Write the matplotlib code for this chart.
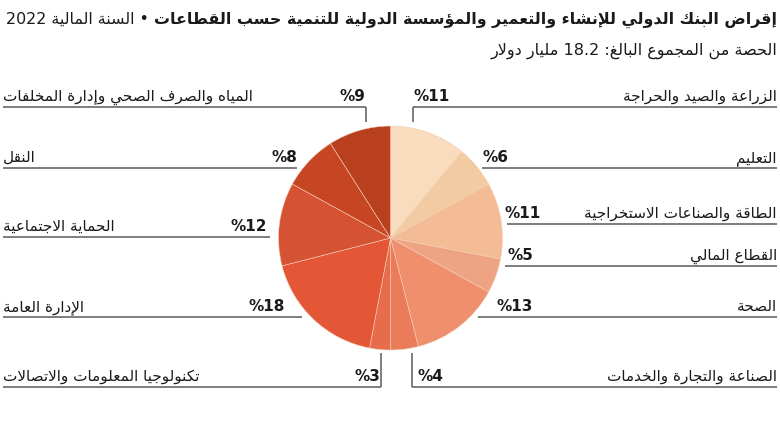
import re
import matplotlib
matplotlib.use("Agg")
import matplotlib.pyplot as plt

W, H = 780, 439

# ---- data ----
title_bold = "إقراض البنك الدولي للإنشاء والتعمير والمؤسسة الدولية للتنمية حسب القطاعات"
title_rest = "• السنة المالية 2022"
subtitle = "الحصة من المجموع البالغ: 18.2 مليار دولار"

sectors = [
    "الزراعة والصيد والحراجة",
    "التعليم",
    "الطاقة والصناعات الاستخراجية",
    "القطاع المالي",
    "الصحة",
    "الصناعة والتجارة والخدمات",
    "تكنولوجيا المعلومات والاتصالات",
    "الإدارة العامة",
    "الحماية الاجتماعية",
    "النقل",
    "المياه والصرف الصحي وإدارة المخلفات",
]
shares = [11, 6, 11, 5, 13, 4, 3, 18, 12, 8, 9]
colors = ["#F9DBBD", "#F3CBA2", "#F4BC95", "#EFA385", "#EF8F6D", "#EA7C5C",
          "#E76C4C", "#E35736", "#D55232", "#C64623", "#B8401F"]

# callout layout: (side, line y, line inner x, pct x, tick top y or None)
layout = [
    ("r", 108, 413, 413, 123),
    ("r", 169, 482, 483, None),
    ("r", 225, 507, 505, None),
    ("r", 267, 505, 508, None),
    ("r", 318, 478, 497, None),
    ("r", 388, 412, 418, 354),
    ("l", 388, 381, 380, 354),
    ("l", 318, 302, 285, None),
    ("l", 238, 270, 267, None),
    ("l", 169, 297, 297, None),
    ("l", 108, 366, 365, 123),
]

# ---- minimal arabic shaping (matplotlib has no bidi / joining) ----
FOUR = {0x0626: 0xFE89, 0x0628: 0xFE8F, 0x062A: 0xFE95, 0x062B: 0xFE99, 0x062C: 0xFE9D,
        0x062D: 0xFEA1, 0x062E: 0xFEA5, 0x0633: 0xFEB1, 0x0634: 0xFEB5, 0x0635: 0xFEB9,
        0x0636: 0xFEBD, 0x0637: 0xFEC1, 0x0638: 0xFEC5, 0x0639: 0xFEC9, 0x063A: 0xFECD,
        0x0641: 0xFED1, 0x0642: 0xFED5, 0x0643: 0xFED9, 0x0644: 0xFEDD, 0x0645: 0xFEE1,
        0x0646: 0xFEE5, 0x0647: 0xFEE9, 0x064A: 0xFEF1}
TWO = {0x0622: 0xFE81, 0x0623: 0xFE83, 0x0624: 0xFE85, 0x0625: 0xFE87, 0x0627: 0xFE8D,
       0x0629: 0xFE93, 0x062F: 0xFEA9, 0x0630: 0xFEAB, 0x0631: 0xFEAD, 0x0632: 0xFEAF,
       0x0648: 0xFEED, 0x0649: 0xFEEF}
LAM_ALEF = {0x0622: 0xFEF5, 0x0623: 0xFEF7, 0x0625: 0xFEF9, 0x0627: 0xFEFB}


def shape(s):
    cs = [ord(c) for c in s]
    out = []
    i = 0
    while i < len(cs):
        c = cs[i]
        prev = i > 0 and cs[i - 1] in FOUR
        if c == 0x0644 and i + 1 < len(cs) and cs[i + 1] in LAM_ALEF:
            out.append(chr(LAM_ALEF[cs[i + 1]] + (1 if prev else 0)))
            i += 2
            continue
        nxt = i + 1 < len(cs) and (cs[i + 1] in FOUR or cs[i + 1] in TWO)
        if c in FOUR:
            out.append(chr(FOUR[c] + (3 if prev and nxt else 1 if prev else 2 if nxt else 0)))
        elif c in TWO:
            out.append(chr(TWO[c] + (1 if prev else 0)))
        elif c == 0x0621:
            out.append(chr(0xFE80))
        else:
            out.append(chr(c))
        i += 1
    return "".join(out)


def ar(s):
    parts = re.findall(r"[0-9]+(?:\.[0-9]+)*|[^0-9]", shape(s))
    return "".join(reversed(parts))


plt.rcParams['font.family'] = ['DejaVu Sans']
fig = plt.figure(figsize=(W / 100, H / 100), dpi=100, facecolor='white')
ax = fig.add_axes([0, 0, 1, 1])

cx, cy, r = 390.5, 239, 112
# y axis is inverted below, so counterclock in data = clockwise on screen
ax.pie(shares, colors=colors, startangle=-90, counterclock=True,
       center=(cx, cy), radius=r, wedgeprops=dict(linewidth=0.4, edgecolor='#f6d0b8'))
ax.set_xlim(0, W)
ax.set_ylim(H, 0)
ax.set_aspect('equal')
ax.axis('off')

lc = '#5a5a5a'
lw = 1.1
tc = '#1a1a1a'
for name, val, (side, ly, lx, px, tick) in zip(sectors, shares, layout):
    if side == "r":
        ax.plot([lx, 777], [ly, ly], color=lc, lw=lw, solid_capstyle='butt')
        ax.text(777, ly - 7, ar(name), ha='right', va='baseline', fontsize=11, color=tc)
        ax.text(px, ly - 7, f"%{val}", ha='left', va='baseline', fontsize=11,
                fontweight='bold', color=tc)
    else:
        ax.plot([3, lx], [ly, ly], color=lc, lw=lw, solid_capstyle='butt')
        ax.text(3, ly - 7, ar(name), ha='left', va='baseline', fontsize=11, color=tc)
        ax.text(px, ly - 7, f"%{val}", ha='right', va='baseline', fontsize=11,
                fontweight='bold', color=tc)
    if tick is not None:
        ax.plot([lx, lx], [ly, tick], color=lc, lw=lw, solid_capstyle='butt')

# title: bold part at the right, regular part to its left, scaled to span the width
t1 = ax.text(777, 24, ar(title_bold), ha='right', va='baseline', fontsize=12.5,
             fontweight='bold', color=tc)
t2 = ax.text(0, 24, ar(title_rest), ha='right', va='baseline', fontsize=12.5, color=tc)
renderer = fig.canvas.get_renderer()
total = t1.get_window_extent(renderer).width + 5 + t2.get_window_extent(renderer).width
fs = 12.5 * 772 / total
t1.set_fontsize(fs)
t2.set_fontsize(fs)
bb = t1.get_window_extent(renderer)
t2.set_x(bb.x0 - 5)
ax.text(777, 55, ar(subtitle), ha='right', va='baseline', fontsize=11.5, color=tc)

fig.savefig("out.png", dpi=100, facecolor='white')
